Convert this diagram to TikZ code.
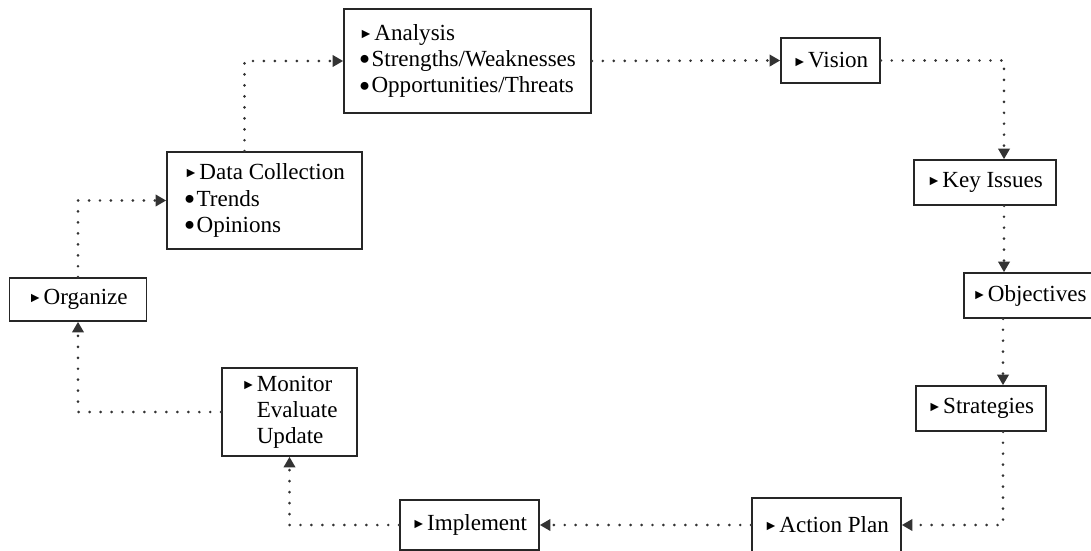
\documentclass[tikz,border=0pt]{standalone}
\usepackage{fontspec}
\setmainfont{Liberation Serif}
\usetikzlibrary{arrows.meta}
\newcommand\tri{{\fontsize{10}{10}\selectfont\raisebox{0.3ex}{►}}\hspace{1pt}}
\newcommand\blt{{\fontsize{13}{13}\selectfont\raisebox{0.2ex}{●}}\hspace{1pt}}
\newcommand\hang{\phantom{\tri}}
\tikzset{
  stage/.style={draw=black!85, line width=1.1pt, align=left, inner sep=0pt,
    font=\fontsize{16.4}{18.6}\selectfont},
  flow/.style={black!80, line width=2.1pt, line cap=round, dash pattern=on 0pt off 7.8pt,
    -{Triangle[length=7.5pt, width=8pt]}}
}
\begin{document}
\begin{tikzpicture}[x=0.025cm,y=-0.025cm]
\useasboundingbox (0,0) rectangle (1091,551);
\node[stage, minimum width=6.175cm, minimum height=2.6cm] (analysis) at (467.5,61) {\tri Analysis\\\blt Strengths/Weaknesses\\\blt Opportunities/Threats};
\node[stage, minimum width=2.475cm, minimum height=1.125cm] (vision) at (830.5,60.5) {\tri Vision};
\node[stage, minimum width=3.55cm, minimum height=1.125cm] (keyiss) at (985,182.5) {\tri Key Issues};
\node[stage, minimum width=3.275cm, minimum height=1.125cm] (objectives) at (1029.5,295.5) {\tri Objectives};
\node[stage, minimum width=3.25cm, minimum height=1.125cm] (strategies) at (981,408.5) {\tri Strategies};
\node[stage, minimum width=3.725cm, minimum height=1.35cm] (actionplan) at (826.5,525) {\tri Action Plan};
\node[stage, minimum width=3.475cm, minimum height=1.25cm] (implement) at (469.5,525) {\tri Implement};
\node[stage, minimum width=3.375cm, minimum height=2.2cm] (monitor) at (289.5,412) {\tri Monitor\\\hang Evaluate\\\hang Update};
\node[stage, minimum width=3.425cm, minimum height=1.075cm] (organize) at (78,299.5) {\tri Organize};
\node[stage, minimum width=4.875cm, minimum height=2.425cm] (datacoll) at (264.5,200.5) {\tri Data Collection\\\blt Trends\\\blt Opinions};
\draw[flow] (organize.north) |- (datacoll.west);
\draw[flow] ([xshift=-0.5cm]datacoll.north) |- (analysis.west);
\draw[flow] (analysis.east) -- (vision.west);
\draw[flow] (vision.east) -| ([xshift=0.475cm]keyiss.north);
\draw[flow] ([xshift=0.475cm]keyiss.south) -- ([xshift=0.475cm]keyiss.south |- objectives.north);
\draw[flow] ([xshift=0.55cm]strategies.north |- objectives.south) -- ([xshift=0.55cm]strategies.north);
\draw[flow] ([xshift=0.55cm]strategies.south) |- (actionplan.east);
\draw[flow] (actionplan.west) -- (implement.east);
\draw[flow] (implement.west) -| (monitor.south);
\draw[flow] (monitor.west) -| (organize.south);
\end{tikzpicture}
\end{document}
